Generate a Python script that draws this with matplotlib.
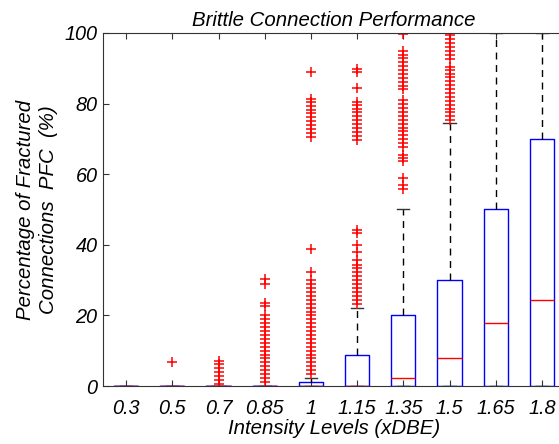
import matplotlib
matplotlib.use('Agg')
import matplotlib.pyplot as plt

plt.rcParams['font.family'] = ['Liberation Sans', 'DejaVu Sans']

niveis = ['0.3', '0.5', '0.7', '0.85', '1', '1.15', '1.35', '1.5', '1.65', '1.8']
q1 = [0, 0, 0, 0, 0, 0, 0, 0, 0, 0]
mediana = [0, 0, 0, 0, 0, 0, 2.2, 7.8, 17.8, 24.4]
q3 = [0, 0, 0, 0, 1.1, 8.9, 20.0, 30.0, 50.0, 70.0]
whis_min = [0, 0, 0, 0, 0, 0, 0, 0, 0, 0]
whis_max = [0, 0, 0, 0, 2.2, 22.2, 50.0, 74.4, 100.0, 100.0]

# Outliers (valores discretos, passo ~1.1 %)
out_03 = []
out_05 = [6.7]
out_07 = [0.6, 1.7, 2.8, 3.9, 5.0, 6.1, 7.0]
out_085 = [1.1, 2.2, 3.3, 4.4, 5.6, 6.7, 7.8, 8.9, 10.0, 11.1, 12.2, 13.3,
           14.4, 15.6, 16.7, 17.8, 18.9, 20.0, 22.6, 23.5, 29.0, 30.2]
out_1 = [3.3, 4.4, 5.6, 6.7, 7.8, 8.9, 10.0, 11.1, 12.2, 13.3, 14.4, 15.6,
         16.7, 17.8, 18.9, 20.0, 21.1, 22.2, 23.3, 24.4, 25.6, 26.7, 27.8,
         28.9, 30.0, 32.2, 38.9,
         70.6, 71.7, 72.8, 73.9, 75.0, 76.1, 77.2, 78.3, 79.4, 80.5, 81.3, 88.9]
out_115 = [23.3, 24.4, 25.6, 26.7, 27.8, 28.9, 30.0, 31.1, 32.2, 33.3, 34.4,
           35.6, 38.1, 40.0, 43.3, 44.2,
           69.8, 70.9, 72.0, 73.1, 74.2, 75.3, 76.4, 77.5, 78.6, 79.7, 80.5,
           84.4, 88.9, 89.9]
out_135 = [55.8, 57.0, 58.9, 63.6, 64.6, 65.5, 67.6,
           68.8, 69.9, 71.0, 72.1, 73.2, 74.3, 75.4, 76.5, 77.6, 78.7, 79.8, 81.1,
           84.0, 85.1, 86.2, 87.3, 88.4, 89.5, 90.6, 91.7, 92.8, 93.9, 94.8,
           99.8]
out_15 = [75.3, 76.4, 77.5, 78.6, 79.7, 80.8, 81.9, 83.0, 84.1, 85.2, 86.3,
          87.4, 88.5, 89.6, 90.4, 92.7, 93.8, 94.9, 96.0, 97.1, 98.2, 99.3, 100.0]
out_165 = []
out_18 = []
outliers = [out_03, out_05, out_07, out_085, out_1, out_115, out_135, out_15,
            out_165, out_18]

stats = []
for i in range(len(niveis)):
    stats.append(dict(label=niveis[i], q1=q1[i], med=mediana[i], q3=q3[i],
                      whislo=whis_min[i], whishi=whis_max[i],
                      fliers=outliers[i]))

fig = plt.figure(figsize=(5.59, 4.44), dpi=100)
# eixo vai um pouco além da borda direita, como na figura original
ax = fig.add_axes([103 / 559, 58 / 444, 462 / 559, 353 / 444])

ax.bxp(stats, positions=range(1, 11), widths=0.52,
       boxprops=dict(color='#0000ff', linewidth=1.0),
       medianprops=dict(color='#ff0000', linewidth=1.0),
       whiskerprops=dict(color='black', linestyle=(0, (5, 4)), linewidth=1.0),
       capprops=dict(color='#333333', linewidth=1.0),
       flierprops=dict(marker='+', markeredgecolor='#ff0000',
                       markersize=7, markeredgewidth=1.1, linestyle='none'))

ax.set_xlim(0.5, 10.5)
ax.set_ylim(0, 100)
ax.set_yticks([0, 20, 40, 60, 80, 100])
ax.set_xticks(range(1, 11))
ax.set_xticklabels(niveis)
ax.tick_params(direction='in', top=True, right=True, length=4,
               labelsize=14.3, color='#333333')
ax.tick_params(axis='x', pad=9)
ax.tick_params(axis='y', pad=4)
for lab in ax.get_xticklabels() + ax.get_yticklabels():
    lab.set_fontstyle('italic')
for s in ax.spines.values():
    s.set_color('#333333')
    s.set_linewidth(0.8)

ax.set_title('Brittle Connection Performance', fontsize=14.7, style='italic', pad=5)
ax.set_xlabel('Intensity Levels (xDBE)', fontsize=14.7, style='italic', labelpad=1)
ax.set_ylabel('Percentage of Fractured\nConnections  PFC  (%)', fontsize=14.7,
              style='italic', labelpad=5, linespacing=1.25)

plt.savefig('out.png', dpi=100)
